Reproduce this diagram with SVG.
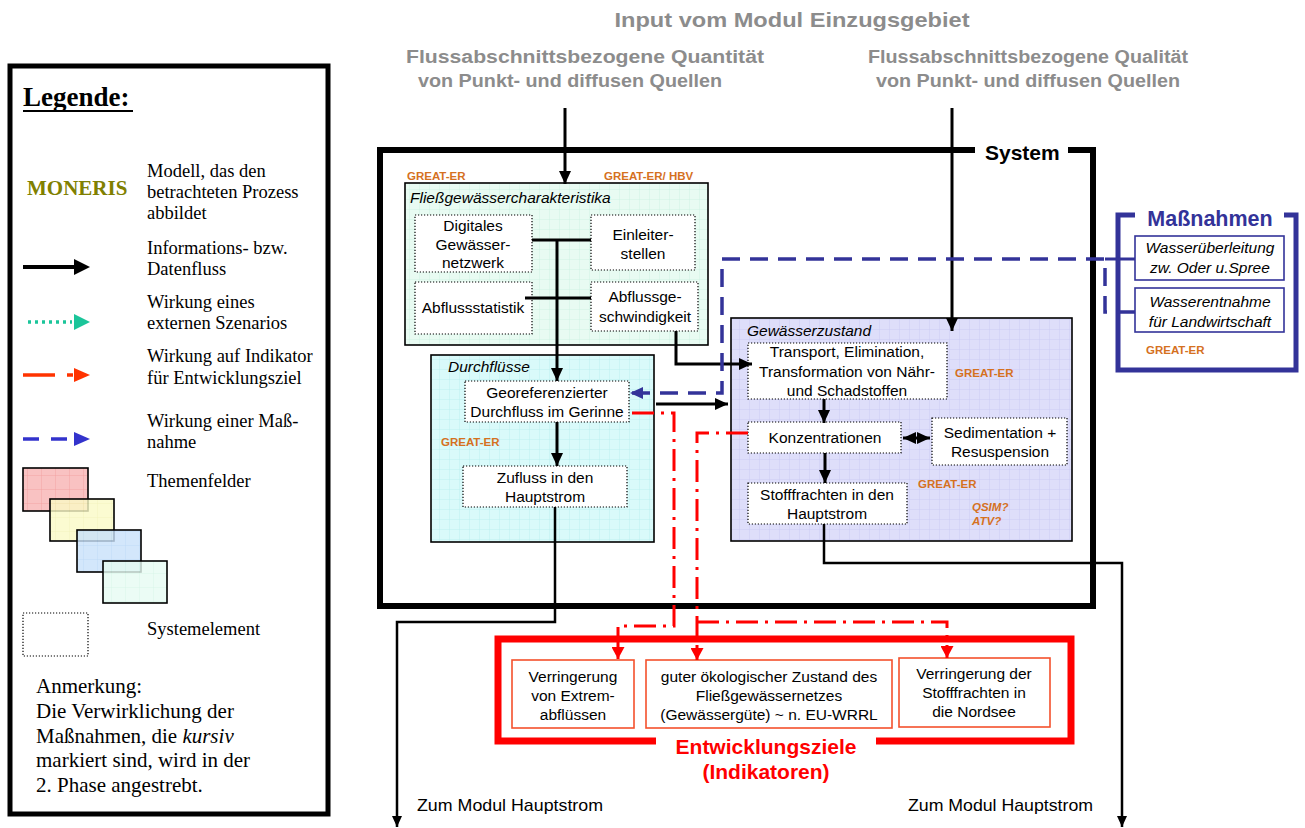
<svg xmlns="http://www.w3.org/2000/svg" width="1305" height="828" viewBox="0 0 1305 828">
<style>
.bx{font-family:"Liberation Sans",Arial,sans-serif;font-size:15.5px;fill:#000;text-anchor:middle}
.ttl{font-family:"Liberation Sans",Arial,sans-serif;font-size:15.5px;font-style:italic;fill:#000}
.mdl{font-family:"Liberation Sans",Arial,sans-serif;font-size:11.5px;font-weight:bold;fill:#D5711F}
.dot{fill:#fff;stroke:#000;stroke-width:1.2;stroke-dasharray:1.2 1.8}
.theme{stroke:#000;stroke-width:1.6}
.lg{font-family:"Liberation Serif","Times New Roman",serif;font-size:18.5px;fill:#000}
.note{font-family:"Liberation Serif","Times New Roman",serif;font-size:21px;fill:#000}
.flow{fill:none;stroke:#000;stroke-width:3}
.flowT{fill:none;stroke:#000;stroke-width:2.5}
.meas{fill:none;stroke:#333399;stroke-width:3.5;stroke-dasharray:18 10}
.ind{fill:none;stroke:#FF0000;stroke-width:3;stroke-dasharray:22 7 3 7}
.goal{fill:#fff;stroke:#F4512C;stroke-width:1.6}
.hd{font-family:"Liberation Sans",Arial,sans-serif;font-weight:bold;fill:#8C8C8C;text-anchor:middle}
.msr{fill:#fff;stroke:#333399;stroke-width:1.6}
.out{font-family:"Liberation Sans",Arial,sans-serif;font-size:17px;fill:#000}
</style>
<defs>
  <pattern id="gMint" width="10" height="10" patternUnits="userSpaceOnUse">
    <rect width="10" height="10" fill="#E8FBF2"/>
    <path d="M10,0 V10 M0,10 H10" stroke="#C9F0DF" stroke-width="0.8" fill="none"/>
  </pattern>
  <pattern id="gCyan" width="10" height="10" patternUnits="userSpaceOnUse">
    <rect width="10" height="10" fill="#D9FAFA"/>
    <path d="M10,0 V10 M0,10 H10" stroke="#B6EEEE" stroke-width="0.8" fill="none"/>
  </pattern>
  <pattern id="gLav" width="10" height="10" patternUnits="userSpaceOnUse">
    <rect width="10" height="10" fill="#DEDEFA"/>
    <path d="M10,0 V10 M0,10 H10" stroke="#C6C6F2" stroke-width="0.8" fill="none"/>
  </pattern>
  <pattern id="gRed" width="14" height="14" patternUnits="userSpaceOnUse">
    <rect width="14" height="14" fill="#F9C2C2"/>
    <path d="M14,0 V14 M0,14 H14" stroke="#F29C9C" stroke-width="0.8" fill="none"/>
  </pattern>
  <pattern id="gYel" width="14" height="14" patternUnits="userSpaceOnUse">
    <rect width="14" height="14" fill="#FAFAC6"/>
    <path d="M14,0 V14 M0,14 H14" stroke="#EEEEA6" stroke-width="0.8" fill="none"/>
  </pattern>
  <pattern id="gBlu" width="14" height="14" patternUnits="userSpaceOnUse">
    <rect width="14" height="14" fill="#C8E1FA"/>
    <path d="M14,0 V14 M0,14 H14" stroke="#A9CDF2" stroke-width="0.8" fill="none"/>
  </pattern>
  <pattern id="gGrn" width="14" height="14" patternUnits="userSpaceOnUse">
    <rect width="14" height="14" fill="#E6FBF2"/>
    <path d="M14,0 V14 M0,14 H14" stroke="#C9F0DF" stroke-width="0.8" fill="none"/>
  </pattern>
  <marker id="ah" markerUnits="userSpaceOnUse" markerWidth="14" markerHeight="12" refX="13" refY="6" orient="auto-start-reverse">
    <path d="M0,0 L13,6 L0,12 z" fill="#000"/>
  </marker>
  <marker id="ahS" markerUnits="userSpaceOnUse" markerWidth="12" markerHeight="10" refX="11" refY="5" orient="auto">
    <path d="M0,0 L11,5 L0,10 z" fill="#000"/>
  </marker>
  <marker id="ahB" markerUnits="userSpaceOnUse" markerWidth="14" markerHeight="12" refX="13" refY="6" orient="auto">
    <path d="M0,0 L13,6 L0,12 z" fill="#333399"/>
  </marker>
  <marker id="ahR" markerUnits="userSpaceOnUse" markerWidth="13" markerHeight="13" refX="12" refY="6.5" orient="auto">
    <path d="M0,0 L12,6.5 L0,13 z" fill="#FF0000"/>
  </marker>
</defs>

<rect width="1305" height="828" fill="#fff"/>

<!-- legend panel -->
<g id="legend">
  <rect x="10" y="66" width="318" height="748" fill="#fff" stroke="#000" stroke-width="5"/>
  <text x="23" y="106" font-family="Liberation Serif, Times New Roman, serif" font-size="27" font-weight="bold">Legende:</text>
  <line x1="23" y1="111" x2="133" y2="111" stroke="#000" stroke-width="2"/>

  <text x="27" y="195" font-family="Liberation Serif, Times New Roman, serif" font-size="21" font-weight="bold" fill="#808000">MONERIS</text>
  <text class="lg" x="147" y="177">Modell, das den</text>
  <text class="lg" x="147" y="198">betrachteten Prozess</text>
  <text class="lg" x="147" y="219">abbildet</text>

  <line x1="23" y1="267" x2="76" y2="267" stroke="#000" stroke-width="4"/>
  <path d="M74,259 L90,267 L74,275 z" fill="#000"/>
  <text class="lg" x="147" y="254">Informations- bzw.</text>
  <text class="lg" x="147" y="275">Datenfluss</text>

  <line x1="28" y1="322" x2="72" y2="322" stroke="#1BC59A" stroke-width="3.5" stroke-dasharray="3 4"/>
  <path d="M74,314 L90,322 L74,330 z" fill="#1BC59A"/>
  <text class="lg" x="147" y="308">Wirkung eines</text>
  <text class="lg" x="147" y="329">externen Szenarios</text>

  <line x1="23" y1="375" x2="55" y2="375" stroke="#FF3300" stroke-width="3.5"/>
  <line x1="67" y1="375" x2="73" y2="375" stroke="#FF3300" stroke-width="3.5"/>
  <path d="M74,368 L90,375 L74,382 z" fill="#FF3300"/>
  <text class="lg" x="147" y="362">Wirkung auf Indikator</text>
  <text class="lg" x="147" y="384">für Entwicklungsziel</text>

  <line x1="23" y1="439" x2="39" y2="439" stroke="#3333CC" stroke-width="3.5"/>
  <line x1="51" y1="439" x2="67" y2="439" stroke="#3333CC" stroke-width="3.5"/>
  <path d="M74,432 L90,439 L74,446 z" fill="#3333CC"/>
  <text class="lg" x="147" y="427">Wirkung einer Maß-</text>
  <text class="lg" x="147" y="448">nahme</text>

  <rect class="theme" x="23" y="468" width="65" height="43" fill="url(#gRed)"/>
  <rect class="theme" x="50" y="499" width="64" height="42" fill="url(#gYel)" fill-opacity="0.8"/>
  <rect class="theme" x="77" y="530" width="64" height="42" fill="url(#gBlu)" fill-opacity="0.8"/>
  <rect class="theme" x="103" y="561" width="64" height="42" fill="url(#gGrn)" fill-opacity="0.8"/>
  <text class="lg" x="147" y="487">Themenfelder</text>

  <rect class="dot" x="23" y="613" width="65" height="43" fill="#fcfcfc" stroke-width="1.6" stroke-dasharray="1.6 1.6"/>
  <text class="lg" x="147" y="635">Systemelement</text>

  <text class="note" x="36" y="693">Anmerkung:</text>
  <text class="note" x="36" y="718">Die Verwirklichung der</text>
  <text class="note" x="36" y="743">Maßnahmen, die <tspan font-style="italic">kursiv</tspan></text>
  <text class="note" x="36" y="767">markiert sind, wird in der</text>
  <text class="note" x="36" y="792">2. Phase angestrebt.</text>
</g>

<!-- incoming from the catchment module -->
<g id="input">
  <text class="hd" x="792" y="27" font-size="21" textLength="355" lengthAdjust="spacingAndGlyphs">Input vom Modul Einzugsgebiet</text>
  <text class="hd" x="585" y="63" font-size="18" textLength="358" lengthAdjust="spacingAndGlyphs">Flussabschnittsbezogene Quantität</text>
  <text class="hd" x="570" y="87" font-size="18" textLength="304" lengthAdjust="spacingAndGlyphs">von Punkt- und diffusen Quellen</text>
  <text class="hd" x="1028" y="63" font-size="18" textLength="320" lengthAdjust="spacingAndGlyphs">Flussabschnittsbezogene Qualität</text>
  <text class="hd" x="1028" y="87" font-size="18" textLength="304" lengthAdjust="spacingAndGlyphs">von Punkt- und diffusen Quellen</text>
</g>

<!-- system frame -->
<g id="system">
  <path d="M975,150 H380 V606 H1093 V150 H1068" fill="none" stroke="#000" stroke-width="6"/>
  <text x="985" y="160" font-family="Liberation Sans, Arial, sans-serif" font-size="21" font-weight="bold">System</text>
</g>

<!-- river characteristics -->
<g id="fliessgewaesser">
  <rect x="405" y="183" width="303" height="162" fill="url(#gMint)" stroke="#000" stroke-width="1.6"/>
  <text class="mdl" x="407" y="180">GREAT-ER</text>
  <text class="mdl" x="604" y="180">GREAT-ER/ HBV</text>
  <text class="ttl" x="410" y="203">Fließgewässercharakteristika</text>
  <g id="digitales-netz">
    <rect class="dot" x="415" y="215" width="117" height="57"/>
    <text class="bx" x="473" y="231">Digitales</text>
    <text class="bx" x="473" y="250">Gewässer-</text>
    <text class="bx" x="473" y="268">netzwerk</text>
  </g>
  <g id="einleiter">
    <rect class="dot" x="591" y="215" width="104" height="55"/>
    <text class="bx" x="643" y="240">Einleiter-</text>
    <text class="bx" x="643" y="259">stellen</text>
  </g>
  <g id="abflussstatistik">
    <rect class="dot" x="415" y="282" width="117" height="52"/>
    <text class="bx" x="473" y="313">Abflussstatistik</text>
  </g>
  <g id="abflussgeschwindigkeit">
    <rect class="dot" x="591" y="282" width="107" height="49"/>
    <text class="bx" x="645" y="302">Abflussge-</text>
    <text class="bx" x="645" y="322">schwindigkeit</text>
  </g>
</g>

<!-- discharges -->
<g id="durchfluesse">
  <rect x="431" y="355" width="223" height="187" fill="url(#gCyan)" stroke="#000" stroke-width="1.6"/>
  <text class="ttl" x="448" y="372">Durchflüsse</text>
  <text class="mdl" x="441" y="446">GREAT-ER</text>
  <g id="georef">
    <rect class="dot" x="465" y="381" width="164" height="41"/>
    <text class="bx" x="547" y="398">Georeferenzierter</text>
    <text class="bx" x="547" y="417">Durchfluss im Gerinne</text>
  </g>
  <g id="zufluss">
    <rect class="dot" x="463" y="466" width="164" height="41"/>
    <text class="bx" x="545" y="483">Zufluss in den</text>
    <text class="bx" x="545" y="502">Hauptstrom</text>
  </g>
</g>

<!-- water body state -->
<g id="gewaesserzustand">
  <rect x="731" y="318" width="341" height="223" fill="url(#gLav)" stroke="#000" stroke-width="1.6"/>
  <text class="ttl" x="747" y="336">Gewässerzustand</text>
  <text class="mdl" x="955" y="377">GREAT-ER</text>
  <text class="mdl" x="918" y="488">GREAT-ER</text>
  <text class="mdl" x="972" y="511" font-style="italic">QSIM?</text>
  <text class="mdl" x="972" y="525" font-style="italic">ATV?</text>
  <g id="transport">
    <rect class="dot" x="748" y="343" width="199" height="56"/>
    <text class="bx" x="847" y="357">Transport, Elimination,</text>
    <text class="bx" x="847" y="377">Transformation von Nähr-</text>
    <text class="bx" x="847" y="396">und Schadstoffen</text>
  </g>
  <g id="konzentrationen">
    <rect class="dot" x="748" y="422" width="153" height="31"/>
    <text class="bx" x="825" y="443">Konzentrationen</text>
  </g>
  <g id="sedimentation">
    <rect class="dot" x="932" y="418" width="135" height="47"/>
    <text class="bx" x="1000" y="438">Sedimentation +</text>
    <text class="bx" x="1000" y="457">Resuspension</text>
  </g>
  <g id="stofffrachten">
    <rect class="dot" x="748" y="483" width="159" height="41"/>
    <text class="bx" x="827" y="500">Stofffrachten in den</text>
    <text class="bx" x="827" y="519">Hauptstrom</text>
  </g>
</g>

<!-- measures -->
<g id="massnahmen">
  <path d="M1135,215 H1118 V370 H1296 V215 H1284" fill="none" stroke="#333399" stroke-width="5"/>
  <text x="1210" y="226" font-family="Liberation Sans, Arial, sans-serif" font-size="21.5" font-weight="bold" fill="#333399" text-anchor="middle">Maßnahmen</text>
  <g id="ueberleitung">
    <rect class="msr" x="1135" y="236" width="149" height="44"/>
    <text class="ttl" x="1210" y="253" text-anchor="middle">Wasserüberleitung</text>
    <text class="ttl" x="1210" y="273" text-anchor="middle">zw. Oder u.Spree</text>
  </g>
  <g id="entnahme">
    <rect class="msr" x="1135" y="288" width="149" height="44"/>
    <text class="ttl" x="1210" y="307" text-anchor="middle">Wasserentnahme</text>
    <text class="ttl" x="1210" y="327" text-anchor="middle">für Landwirtschaft</text>
  </g>
  <text class="mdl" x="1146" y="354">GREAT-ER</text>
</g>

<!-- development goals -->
<g id="entwicklungsziele">
  <path d="M656,741 H498 V639 H1071 V741 H876" fill="none" stroke="#FF0000" stroke-width="7"/>
  <text x="766" y="754" font-family="Liberation Sans, Arial, sans-serif" font-size="21" font-weight="bold" fill="#FF0000" text-anchor="middle">Entwicklungsziele</text>
  <text x="766" y="779" font-family="Liberation Sans, Arial, sans-serif" font-size="21" font-weight="bold" fill="#FF0000" text-anchor="middle">(Indikatoren)</text>
  <g id="extremabfluesse">
    <rect class="goal" x="512" y="660" width="122" height="68"/>
    <text class="bx" x="573" y="682">Verringerung</text>
    <text class="bx" x="573" y="701">von Extrem-</text>
    <text class="bx" x="573" y="720">abflüssen</text>
  </g>
  <g id="oekozustand">
    <rect class="goal" x="646" y="660" width="246" height="68"/>
    <text class="bx" x="769" y="682">guter ökologischer Zustand des</text>
    <text class="bx" x="769" y="701">Fließgewässernetzes</text>
    <text class="bx" x="769" y="720">(Gewässergüte) ~ n. EU-WRRL</text>
  </g>
  <g id="nordsee">
    <rect class="goal" x="899" y="658" width="151" height="69"/>
    <text class="bx" x="974" y="679">Verringerung der</text>
    <text class="bx" x="974" y="698">Stofffrachten in</text>
    <text class="bx" x="974" y="717">die Nordsee</text>
  </g>
</g>

<!-- outputs to the main river module -->
<g id="output">
  <text class="out" x="417" y="811" textLength="186" lengthAdjust="spacingAndGlyphs">Zum Modul Hauptstrom</text>
  <text class="out" x="908" y="811" textLength="185" lengthAdjust="spacingAndGlyphs">Zum Modul Hauptstrom</text>
</g>

<!-- connectors -->
<g id="connectors">
  <path class="flow" d="M565,108 V184" marker-end="url(#ah)"/>
  <path class="flow" d="M952,108 V331" marker-end="url(#ah)"/>
  <path class="flow" d="M532,240 H591 M525,298 H591"/>
  <path class="flow" d="M557,240 V381" marker-end="url(#ah)"/>
  <path class="flow" d="M676,331 V364 H752" marker-end="url(#ah)"/>
  <path class="flow" d="M557,422 V466" marker-end="url(#ah)"/>
  <path class="flow" d="M656,404 H728" marker-end="url(#ah)"/>
  <path class="flow" d="M824,399 V423" marker-end="url(#ah)"/>
  <path class="flow" d="M903,438 H930" marker-start="url(#ah)" marker-end="url(#ah)"/>
  <path class="flow" d="M825,453 V483" marker-end="url(#ah)"/>
  <path class="flowT" d="M555,507 V622 H397 V827" marker-end="url(#ahS)"/>
  <path class="flowT" d="M824,524 V563 H1122 V827" marker-end="url(#ahS)"/>

  <path class="meas" d="M1135,312 H1105 V259 H722 V393 H630" marker-end="url(#ahB)"/>
  <path d="M1135,259 H1105" fill="none" stroke="#333399" stroke-width="3"/>

  <path class="ind" d="M632,413 H674 V626 H618 V659" marker-end="url(#ahR)"/>
  <path class="ind" d="M748,433 H697 V660" marker-end="url(#ahR)"/>
  <path class="ind" d="M697,622 H947 V658" marker-end="url(#ahR)"/>
</g>
</svg>
